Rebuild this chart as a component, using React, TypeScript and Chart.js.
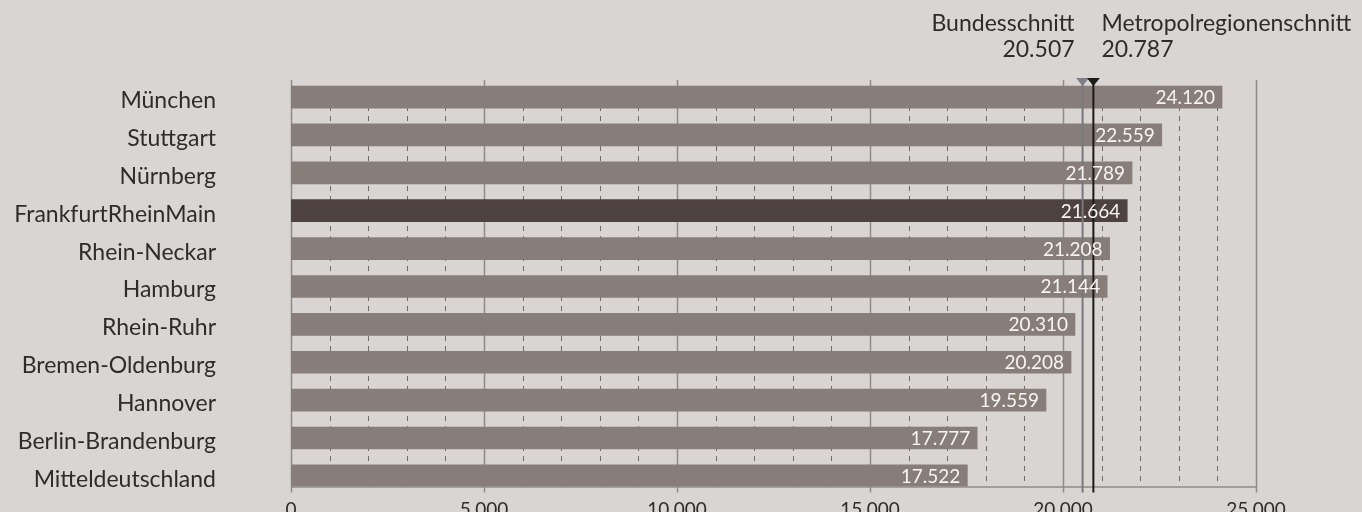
import React, { useEffect, useRef } from "react";
import { Chart, registerables } from "chart.js";

Chart.register(...registerables);

// Regionen und Werte
const categories = [
  "München",
  "Stuttgart",
  "Nürnberg",
  "FrankfurtRheinMain",
  "Rhein-Neckar",
  "Hamburg",
  "Rhein-Ruhr",
  "Bremen-Oldenburg",
  "Hannover",
  "Berlin-Brandenburg",
  "Mitteldeutschland",
];
const values = [24120, 22559, 21789, 21664, 21208, 21144, 20310, 20208, 19559, 17777, 17522];
const highlighted = "FrankfurtRheinMain";

// Vergleichslinien
const refLabels = ["Bundesschnitt", "Metropolregionenschnitt"];
const refValues = [20507, 20787];

// Achse
const axisMin = 0;
const axisMax = 25000;
const minorStep = 1000;
const majorStep = 5000;

const FONT = "Lato, 'Noto Sans', sans-serif";
const BG = "#d9d5d2";
const BAR = "#877e79";
const BAR_DARK = "#4e4240";
const TEXT = "#2e2c2b";
const GRID_MAJOR = "#8f8b88";
const GRID_MINOR = "#6e6a67";
const REF_COLORS = ["#77777d", "#1c1a1a"];
const REF_TRI = ["#7e7e85", "#1c1a1a"];

const fmt = (v: number) => String(Math.round(v)).replace(/\B(?=(\d{3})+(?!\d))/g, ".");

const decorPlugin = {
  id: "decor",
  beforeDatasetsDraw(chart: any) {
    const { ctx, chartArea, scales } = chart;
    const x = scales.x;
    const first = chart.getDatasetMeta(0).data[0];
    const barTop = first.y - first.height / 2;
    ctx.save();
    for (const t of x.ticks) {
      const v = t.value;
      const px = Math.round(x.getPixelForValue(v)) + 0.5;
      ctx.beginPath();
      if (v % majorStep === 0) {
        ctx.setLineDash([]);
        ctx.strokeStyle = GRID_MAJOR;
        ctx.lineWidth = 1.5;
        ctx.moveTo(px, chartArea.top);
        ctx.lineTo(px, chartArea.bottom + 6);
      } else {
        ctx.setLineDash([5, 5]);
        ctx.lineDashOffset = 0;
        ctx.strokeStyle = GRID_MINOR;
        ctx.lineWidth = 1;
        ctx.moveTo(px, barTop);
        ctx.lineTo(px, chartArea.bottom);
      }
      ctx.stroke();
    }
    ctx.restore();
  },
  afterDatasetsDraw(chart: any) {
    const { ctx, chartArea, scales } = chart;
    const x = scales.x;
    const y = scales.y;
    ctx.save();
    // Grundlinie
    ctx.setLineDash([]);
    ctx.strokeStyle = GRID_MAJOR;
    ctx.lineWidth = 1.5;
    ctx.beginPath();
    ctx.moveTo(chartArea.left, chartArea.bottom + 0.5);
    ctx.lineTo(chartArea.right, chartArea.bottom + 0.5);
    ctx.stroke();

    // Vergleichslinien mit Markern und Beschriftung
    refValues.forEach((val, i) => {
      const px = x.getPixelForValue(val);
      ctx.strokeStyle = REF_COLORS[i];
      ctx.lineWidth = 2;
      ctx.beginPath();
      ctx.moveTo(px, chartArea.top + 4);
      ctx.lineTo(px, chartArea.bottom + 6);
      ctx.stroke();

      ctx.fillStyle = REF_TRI[i];
      ctx.beginPath();
      ctx.moveTo(px - 6.5, chartArea.top - 2);
      ctx.lineTo(px + 6.5, chartArea.top - 2);
      ctx.lineTo(px, chartArea.top + 6);
      ctx.closePath();
      ctx.fill();

      ctx.fillStyle = TEXT;
      ctx.font = `23px ${FONT}`;
      ctx.textBaseline = "alphabetic";
      const left = i % 2 === 1;
      ctx.textAlign = left ? "left" : "right";
      const tx = left ? px + 8 : px - 8;
      ctx.fillText(refLabels[i], tx, chartArea.top - 49);
      ctx.fillText(fmt(val), tx, chartArea.top - 23);
    });

    // Werte in den Balken
    const meta = chart.getDatasetMeta(0);
    ctx.font = `19px ${FONT}`;
    ctx.fillStyle = "#f7f5f3";
    ctx.textAlign = "right";
    ctx.textBaseline = "alphabetic";
    meta.data.forEach((bar: any, i: number) => {
      ctx.fillText(fmt(values[i]), bar.x - 7, bar.y + 7);
    });

    // Regionsnamen links der Achse
    ctx.font = `23px ${FONT}`;
    ctx.fillStyle = TEXT;
    ctx.textAlign = "right";
    ctx.textBaseline = "alphabetic";
    categories.forEach((name, i) => {
      ctx.fillText(name, chartArea.left - 75, y.getPixelForValue(i) + 11);
    });
    ctx.restore();
  },
};

export default function App() {
  const canvasRef = useRef<HTMLCanvasElement | null>(null);

  useEffect(() => {
    document.body.style.margin = "0";
    const canvas = canvasRef.current;
    if (!canvas) return;
    const chart = new Chart(canvas, {
      type: "bar",
      data: {
        datasets: [
          {
            data: values.map((v, i) => ({ x: v, y: i })),
            backgroundColor: categories.map((c) => (c === highlighted ? BAR_DARK : BAR)),
            borderWidth: 0,
            barThickness: 22,
          },
        ],
      },
      options: {
        indexAxis: "y",
        animation: false,
        responsive: false,
        devicePixelRatio: 1,
        layout: { autoPadding: false, padding: { left: 0, right: 106, top: 80, bottom: 0 } },
        plugins: { legend: { display: false }, tooltip: { enabled: false } },
        scales: {
          x: {
            type: "linear",
            position: "bottom",
            min: axisMin,
            max: axisMax,
            offset: false,
            afterFit: (s: any) => {
              s.height = 25.5;
            },
            grid: { display: false, drawTicks: false },
            border: { display: false },
            ticks: {
              stepSize: minorStep,
              autoSkip: false,
              maxRotation: 0,
              padding: 12,
              color: TEXT,
              font: { family: FONT, size: 19 },
              callback: (v: any) => (Number(v) % majorStep === 0 ? fmt(Number(v)) : ""),
            },
          },
          y: {
            type: "linear",
            reverse: true,
            offset: false,
            min: -0.45,
            max: 10.28,
            afterFit: (s: any) => {
              s.width = 291;
            },
            grid: { display: false, drawTicks: false, offset: false },
            border: { display: false },
            ticks: { display: false, stepSize: 1 },
          },
        },
      },
      plugins: [decorPlugin],
    } as any);
    return () => chart.destroy();
  }, []);

  return (
    <div style={{ position: "absolute", left: 0, top: 0, width: 1362, height: 512, background: BG, overflow: "hidden" }}>
      <canvas ref={canvasRef} width={1362} height={512} style={{ display: "block" }} />
    </div>
  );
}
